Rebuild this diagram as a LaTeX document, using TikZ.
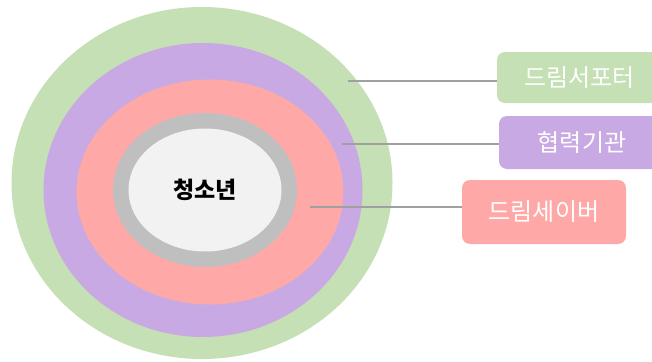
\documentclass[tikz,border=0pt]{standalone}
\usepackage{fontspec}
\setmainfont{Noto Sans CJK KR}
\usetikzlibrary{shapes.geometric}

\definecolor{ringgreen}{RGB}{197,224,180}
\definecolor{ringpurple}{RGB}{201,169,227}
\definecolor{ringpink}{RGB}{255,168,168}
\definecolor{ringgray}{RGB}{191,191,191}
\definecolor{ringcore}{RGB}{242,242,242}
\definecolor{leadgray}{RGB}{160,160,160}

\tikzset{
  ring/.style={ellipse, draw=none, inner sep=0pt},
  tag/.style={rectangle, rounded corners=8pt, inner sep=0pt, text=white,
    font=\fontsize{24}{28}\selectfont},
  lead/.style={draw=leadgray, line width=2pt}
}

\begin{document}
\begin{tikzpicture}[x=1pt,y=-1pt]
\useasboundingbox (0,0) rectangle (652,361);
\clip (0,0) rectangle (652,361);
% rings
\node[ring, fill=ringgreen, minimum width=381pt, minimum height=352pt] (supporter) at (202,183) {};
\node[ring, fill=ringpurple, minimum width=319pt, minimum height=294pt] (partner) at (203,190) {};
\node[ring, fill=ringpink, minimum width=267pt, minimum height=225pt] (saver) at (210,192) {};
\node[ring, fill=ringgray, minimum width=184pt, minimum height=154pt] (youthrim) at (205,190) {};
\node[ring, fill=ringcore, minimum width=153pt, minimum height=123pt,
  font=\bfseries\fontsize{23}{27}\selectfont] (youth) at (205,190) {청소년};
% tags
\node[tag, fill=ringgreen, minimum width=165pt, minimum height=51pt] (tagsupporter) at (579.5,77.5) {드림서포터};
\node[tag, fill=ringpurple, minimum width=166pt, minimum height=53pt] (tagpartner) at (582,142.5) {협력기관};
\node[tag, fill=ringpink, minimum width=164pt, minimum height=64pt] (tagsaver) at (544,212) {드림세이버};
% leads
\coordinate (leadsupporter) at (348,81);
\coordinate (leadpartner) at (342,144);
\coordinate (leadsaver) at (310,207);
\draw[lead] (leadsupporter) -- (leadsupporter -| tagsupporter.west);
\draw[lead] (leadpartner) -- (leadpartner -| tagpartner.west);
\draw[lead] (leadsaver) -- (leadsaver -| tagsaver.west);
\end{tikzpicture}
\end{document}
